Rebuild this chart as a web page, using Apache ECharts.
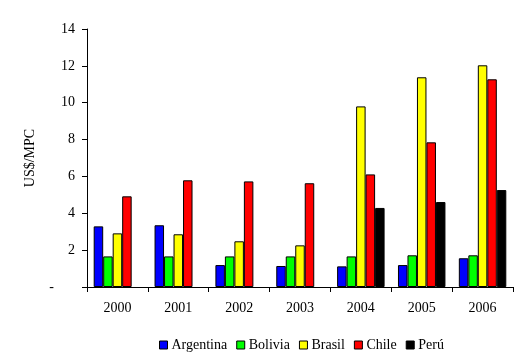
<!DOCTYPE html>
<html><head><meta charset="utf-8">
<script src="https://cdn.jsdelivr.net/npm/echarts@6/dist/echarts.min.js"></script>
<style>html,body{margin:0;padding:0;background:#fff}#c{width:528px;height:363px}</style>
</head><body><div id="c"></div>
<script>
var categories = ['2000','2001','2002','2003','2004','2005','2006'];
var argentina = [3.29, 3.35, 1.19, 1.14, 1.12, 1.19, 1.56];
var bolivia   = [1.66, 1.66, 1.66, 1.66, 1.66, 1.72, 1.72];
var brasil    = [2.91, 2.86, 2.48, 2.26, 9.80, 11.38, 12.03];
var chile     = [4.92, 5.79, 5.73, 5.63, 6.11, 7.85, 11.27];
var peru      = [null, null, null, null, 4.29, 4.61, 5.26];
var seriesNames = ['Argentina','Bolivia','Brasil','Chile','Perú'];
var colors = ['#0000ff','#00ff00','#ffff00','#ff0000','#000000'];
var dataSets = [argentina, bolivia, brasil, chile, peru];

var font = '"Liberation Serif", "Times New Roman", serif';
var chart = echarts.init(document.getElementById('c'), null, {renderer:'canvas'});
chart.setOption({
  animation: false,
  color: colors,
  textStyle: {fontFamily: font, color: '#000'},
  grid: {left: 87, right: 15, top: 29, bottom: 76},
  legend: {
    bottom: 6, left: 154,
    itemWidth: 8, itemHeight: 8, itemGap: 9,
    icon: 'rect',
    textStyle: {fontFamily: font, fontSize: 14, color: '#000', padding: [0,0,0,-1]},
    itemStyle: {borderColor: '#000', borderWidth: 1},
    data: seriesNames
  },
  xAxis: {
    type: 'category', data: categories,
    axisLine: {lineStyle: {color: '#000', width: 1}},
    axisTick: {show: true, length: 5, lineStyle: {color: '#000'}},
    axisLabel: {fontFamily: font, fontSize: 14, color: '#000', margin: 14}
  },
  yAxis: {
    type: 'value', min: 0, max: 14, interval: 2,
    name: 'US$/MPC', nameLocation: 'middle', nameGap: 50, nameRotate: 90,
    nameTextStyle: {fontFamily: font, fontSize: 14, color: '#000'},
    axisLine: {show: true, lineStyle: {color: '#000', width: 1}},
    axisTick: {show: true, length: 5, lineStyle: {color: '#000'}},
    splitLine: {show: false},
    axisLabel: {fontFamily: font, fontSize: 14, color: '#000', margin: 12,
      formatter: function(v){ return v === 0 ? '-      ' : String(v); }}
  },
  series: dataSets.map(function(d, i){
    return {
      name: seriesNames[i], type: 'bar', data: d,
      barGap: '0%', barCategoryGap: '22%',
      itemStyle: {color: colors[i], borderColor: '#000', borderWidth: 1}
    };
  })
});
</script></body></html>
